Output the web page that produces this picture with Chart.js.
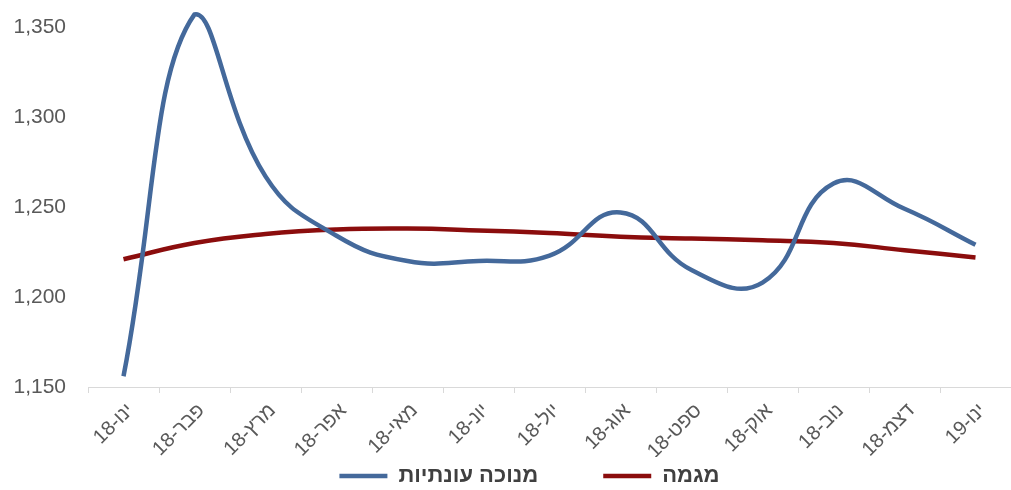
<!DOCTYPE html>
<html>
<head>
<meta charset="utf-8">
<script src="https://cdn.jsdelivr.net/npm/chart.js@4/dist/chart.umd.min.js"></script>
<style>
  html, body { margin: 0; padding: 0; background: #fff; }
</style>
</head>
<body>
<canvas id="chart" width="1011" height="490" dir="rtl"></canvas>
<script>
const months = ['ינו-18', 'פבר-18', 'מרץ-18', 'אפר-18', 'מאי-18', 'יונ-18', 'יול-18', 'אוג-18', 'ספט-18', 'אוק-18', 'נוב-18', 'דצמ-18', 'ינו-19'];
const seasonal = [1156, 1357, 1267, 1234, 1220, 1220, 1223, 1247, 1215, 1208, 1263, 1249, 1229];
const trend = [1221, 1230, 1235, 1237.5, 1238, 1237, 1235.5, 1233.5, 1232.5, 1231.5, 1230, 1226, 1222];
const yTicks = [1150, 1200, 1250, 1300, 1350];

const font = '"Liberation Sans", "DejaVu Sans", sans-serif';

// legend sits lower than its layout box, so the items can be spread wide
const legendShift = {
    id: 'legendShift',
    afterLayout(chart) {
        const lg = chart.legend;
        lg.top = lg.bottom - 90;
        lg.left -= 40;
    }
};

new Chart(document.getElementById('chart'), {
    type: 'line',
    data: {
        labels: months,
        datasets: [{
            label: 'מנוכה עונתיות',
            data: seasonal,
            borderColor: '#44699b',
            backgroundColor: '#44699b',
            borderWidth: 4.5,
            pointRadius: 0,
            tension: 0.45,
            fill: false
        }, {
            label: 'מגמה',
            data: trend,
            borderColor: '#8b0d0d',
            backgroundColor: '#8b0d0d',
            borderWidth: 4.5,
            pointRadius: 0,
            tension: 0.45,
            fill: false
        }]
    },
    plugins: [legendShift],
    options: {
        responsive: false,
        animation: false,
        layout: { padding: { top: 9, right: 0, left: 0, bottom: 0 } },
        plugins: {
            tooltip: { enabled: false },
            legend: {
                position: 'bottom',
                fullSize: false,
                maxHeight: 33,
                labels: {
                    usePointStyle: true,
                    pointStyle: 'line',
                    pointStyleWidth: 48,
                    padding: 65,
                    color: '#404040',
                    font: { family: font, size: 22, weight: 'bold' }
                }
            }
        },
        scales: {
            x: {
                offset: true,
                border: { color: '#d9d9d9', width: 1 },
                grid: { drawOnChartArea: false, color: '#d9d9d9', tickLength: 6, offset: true },
                ticks: {
                    minRotation: 45,
                    maxRotation: 45,
                    padding: 6,
                    labelOffset: 7,
                    color: '#595959',
                    font: { family: font, size: 20 }
                },
                afterFit: s => { s.height = 70; }
            },
            y: {
                min: 1150,
                max: 1360,
                border: { display: false },
                grid: { display: false, drawTicks: false },
                afterBuildTicks: s => { s.ticks = yTicks.map(v => ({ value: v })); },
                ticks: {
                    padding: 22,
                    color: '#595959',
                    font: { family: font, size: 21 },
                    callback: v => v.toLocaleString('en-US')
                },
                afterFit: s => { s.width = 88; s.paddingTop = 0; s.paddingBottom = 0; }
            }
        }
    }
});
</script>
</body>
</html>
